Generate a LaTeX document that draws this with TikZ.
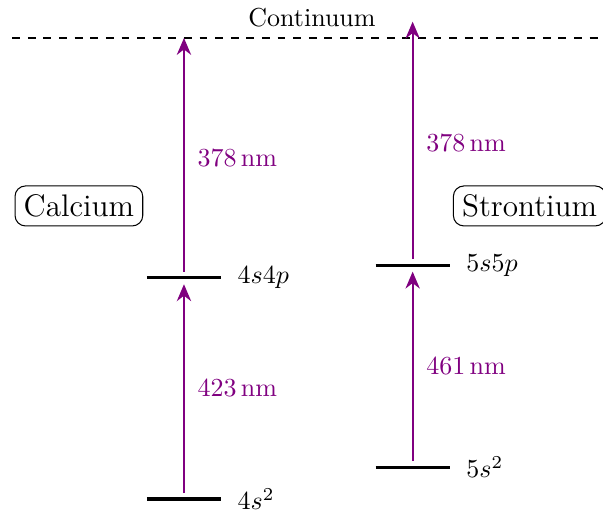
\documentclass[tikz,border=0pt]{standalone}
\usepackage{amsmath}
\usepackage{tikz}
\usetikzlibrary{
  arrows.meta,
  positioning,
  calc
}
\definecolor{TransPurple}{RGB}{128,0,128}
\tikzset{
  % Energy level bar
  lvl/.style={line width=1.2pt, black},
  % Level label
  lvllbl/.style={right, xshift=2.5pt},
  % Transition arrow
  trans/.style={
    -{Stealth[length=6.5pt,width=5.5pt]},
    line width=0.8pt, color=TransPurple
  },
  % Wavelength label
  wl/.style={midway, right, xshift=1.5pt, color=TransPurple},
  % Element name box
  elem/.style={
    rectangle, rounded corners=4pt,
    draw=black, line width=0.4pt,
    font=\large
  }
}

\begin{document}
\begin{tikzpicture}

  \useasboundingbox (-2.486,-0.23) rectangle (5.662,6.743);

  % Ionisation threshold
  \coordinate (contL) at (-2.32,6.23);
  \coordinate (contR) at (5.70,6.23);
  \draw[thick, dashed] (contL) -- (contR);
  \node (cont) at (1.73,6.5) {Continuum};

  % Energy levels
  \foreach \n/\x/\y/\t in {ca0/0/0/4s^2, ca1/0/2.99/4s4p, sr0/3.09/0.43/5s^2, sr1/3.09/3.16/5s5p}{
    \coordinate (\n) at (\x,\y);
    \draw[lvl] ([xshift=-5mm]\n) -- ([xshift=5mm]\n) node[lvllbl] (\n-lbl) {$\t$};
  }

  % Top ends of the ionising arrows
  \coordinate (catop) at (ca1 |- contL);
  \coordinate (srtop) at (3.09,6.45);

  % Transitions
  \draw[trans, shorten <=2.3pt, shorten >=2.5pt] (ca0) -- (ca1) node[wl] {$423\,\mathrm{nm}$};
  \draw[trans, shorten <=2.3pt] (ca1) -- (catop) node[wl] {$378\,\mathrm{nm}$};
  \draw[trans, shorten <=2.3pt, shorten >=2.5pt] (sr0) -- (sr1) node[wl] {$461\,\mathrm{nm}$};
  \draw[trans, shorten <=2.3pt] (sr1) -- (srtop) node[wl] {$378\,\mathrm{nm}$};

  % Element names
  \node[elem] (ca) at (-1.42,3.96) {Calcium};
  \node[elem] (sr) at (4.67,3.96) {Strontium};

\end{tikzpicture}
\end{document}
